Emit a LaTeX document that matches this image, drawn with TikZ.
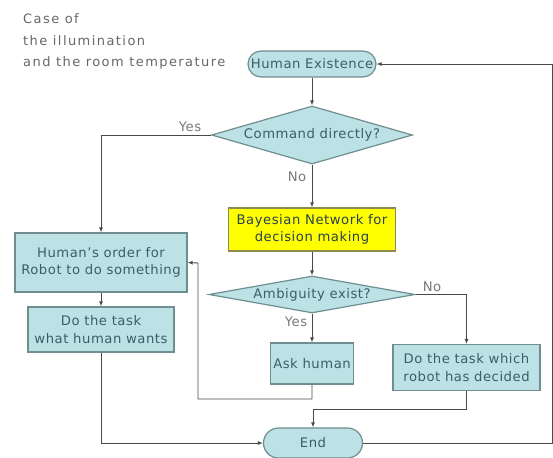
\documentclass[tikz,border=0pt]{standalone}
\usepackage{fontspec}
\setmainfont{DejaVu Sans}
\usetikzlibrary{shapes.geometric,shapes.misc,arrows.meta}
\definecolor{boxfill}{HTML}{BCE2E5}
\definecolor{boxline}{HTML}{6F8E8F}
\definecolor{boxtext}{HTML}{3A5F6B}
\definecolor{yel}{HTML}{FFFF00}
\definecolor{yelline}{HTML}{8A8A55}
\definecolor{conn}{HTML}{4A4A4A}
\definecolor{lbl}{HTML}{7A7A7A}
\newcommand{\boxfont}{\fontsize{13.2}{17.5}\selectfont\addfontfeature{LetterSpace=4}}
\tikzset{
  procbox/.style={draw=boxline, line width=1.2pt, fill=boxfill, text=boxtext, align=center, inner sep=0pt, font=\boxfont},
  termbox/.style={rounded rectangle, draw=boxline, line width=1.2pt, fill=boxfill, text=boxtext, inner sep=0pt, font=\boxfont},
  decbox/.style={diamond, draw=boxline, line width=1.2pt, fill=boxfill, text=boxtext, inner sep=0pt, font=\boxfont},
  flow/.style={draw=conn, line width=0.9pt, -{Latex[length=5pt,width=4pt]}},
  lab/.style={text=lbl, inner sep=0pt, font=\boxfont},
  note/.style={text=lbl!85!black, anchor=west, inner sep=0pt, font=\fontsize{13}{15}\selectfont\addfontfeature{LetterSpace=11}}
}
\begin{document}
\begin{tikzpicture}[x=1pt,y=-1pt]
\useasboundingbox[fill=white] (0,0) rectangle (553,457);
% notes
\node[note] (n1) at (23,19) {Case of};
\node[note] (n2) at (23,41) {the illumination};
\node[note] (n3) at (23,63) {and the room temperature};
% nodes
\node[termbox, minimum width=128pt, minimum height=26pt] (he) at (312,64) {Human Existence};
\node[decbox, aspect=3.47, minimum width=201pt, minimum height=58pt] (cmd) at (312,135) {Command directly?};
\node[procbox, draw=yelline, fill=yel, text=boxtext!70!black, minimum width=167pt, minimum height=43pt] (bn) at (312,229.5) {Bayesian Network for\\decision making};
\node[decbox, aspect=5.57, minimum width=206pt, minimum height=37pt] (amb) at (312,294.5) {Ambiguity exist?};
\node[procbox, minimum width=172pt, minimum height=59pt] (ho) at (101,262.5) {Human's order for\\Robot to do something};
\node[procbox, minimum width=146pt, minimum height=45pt] (dth) at (101,329.5) {Do the task\\what human wants};
\node[procbox, minimum width=83pt, minimum height=41pt] (ask) at (312,363.5) {Ask human};
\node[procbox, minimum width=147pt, minimum height=46pt] (dtr) at (466.5,367.5) {Do the task which\\robot has decided};
\node[termbox, minimum width=99pt, minimum height=30pt] (end) at (313,443) {End};
% coordinates
\coordinate (askdown) at (312,399);
\coordinate (askleft) at (198,399);
\coordinate (askup) at (198,263);
\coordinate (dtrdown) at (466.5,409);
\coordinate (rb) at (552.5,443);
\coordinate (rt) at (552.5,64);
% connectors
\draw[flow] (he.south) -- (cmd.north);
\draw[flow] (cmd.west) -| (ho.north);
\draw[flow] (cmd.south) -- (bn.north);
\draw[flow] (bn.south) -- (amb.north);
\draw[flow] (amb.east) -| (dtr.north);
\draw[flow] (amb.south) -- (ask.north);
\draw[flow] (ask.south) -- (askdown) -- (askleft) -- (askup) -- (ho.east);
\draw[flow] (ho.south) -- (dth.north);
\draw[flow] (dth.south) |- (end.west);
\draw[flow] (dtr.south) -- (dtrdown) -| (end.north);
\draw[flow] (end.east) -- (rb) -- (rt) -- (he.east);
% labels
\node[lab] (y1) at (190,127) {Yes};
\node[lab] (no1) at (297,177) {No};
\node[lab] (no2) at (432,287) {No};
\node[lab] (y2) at (296,322) {Yes};
\end{tikzpicture}
\end{document}
